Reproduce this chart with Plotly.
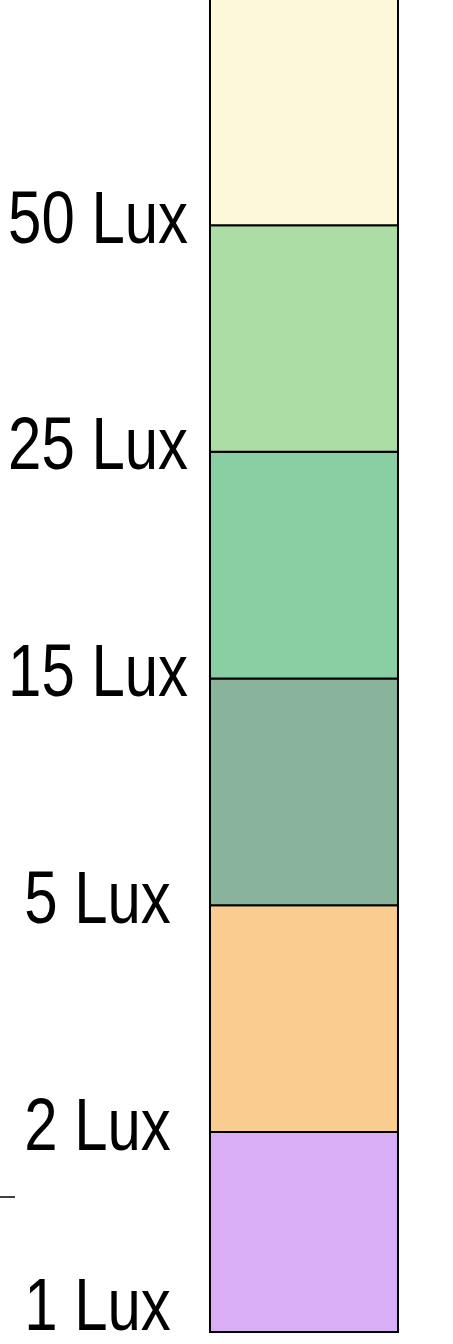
import plotly.graph_objects as go

# Band data (levels on an ordinal lux scale)
band_names = ["1 Lux", "2 Lux", "5 Lux", "15 Lux", "25 Lux", "50 Lux"]
band_lower = [0.118, 1, 2, 3, 4, 5]
band_upper = [1, 2, 3, 4, 5, 6.6]
band_colors = ["#D9AEF7", "#FBCC8F", "#89B39B", "#8ACEA3", "#ACDDA5", "#FDF8D9"]

label_text = ["1 Lux", "2 Lux", "5 Lux", "15 Lux", "25 Lux", "50 Lux"]
label_level = [0.206, 1, 2, 3, 4, 5]

fig = go.Figure()
for name, lo, hi, col in zip(band_names, band_lower, band_upper, band_colors):
    fig.add_trace(go.Bar(
        x=[0], y=[hi - lo], base=[lo], width=[1],
        marker=dict(color=col, line=dict(color="#000000", width=2)),
        name=name, showlegend=False, hoverinfo="skip",
    ))

for txt, lv in zip(label_text, label_level):
    fig.add_annotation(
        x=-1.096, y=lv, xref="x", yref="y", text=txt, showarrow=False,
        xanchor="center", yanchor="middle", yshift=8,
        font=dict(family="Liberation Sans, Arial", size=74, color="#000000"),
    )

# small stray tick at left edge
fig.add_shape(type="line", xref="paper", yref="paper", x0=0, x1=15/453, y0=1-1197/1344, y1=1-1197/1344,
              line=dict(color="#000000", width=1.5))

fig.update_layout(
    width=453, height=1344, margin=dict(l=0, r=0, t=0, b=0),
    paper_bgcolor="#FFFFFF", plot_bgcolor="#FFFFFF", barmode="overlay",
    xaxis=dict(range=[-1.617, 0.7926], visible=False, fixedrange=True),
    yaxis=dict(range=[0.065, 5.993], visible=False, fixedrange=True),
)

post = """
document.body.style.margin='0';
document.querySelectorAll('.annotation-text').forEach(function(t){
  t.style.transformBox='fill-box';
  t.style.transformOrigin='center';
  t.style.transform='scaleX(0.81)';
});
"""
fig.write_html("out.html", post_script=post, config={"displayModeBar": False})
